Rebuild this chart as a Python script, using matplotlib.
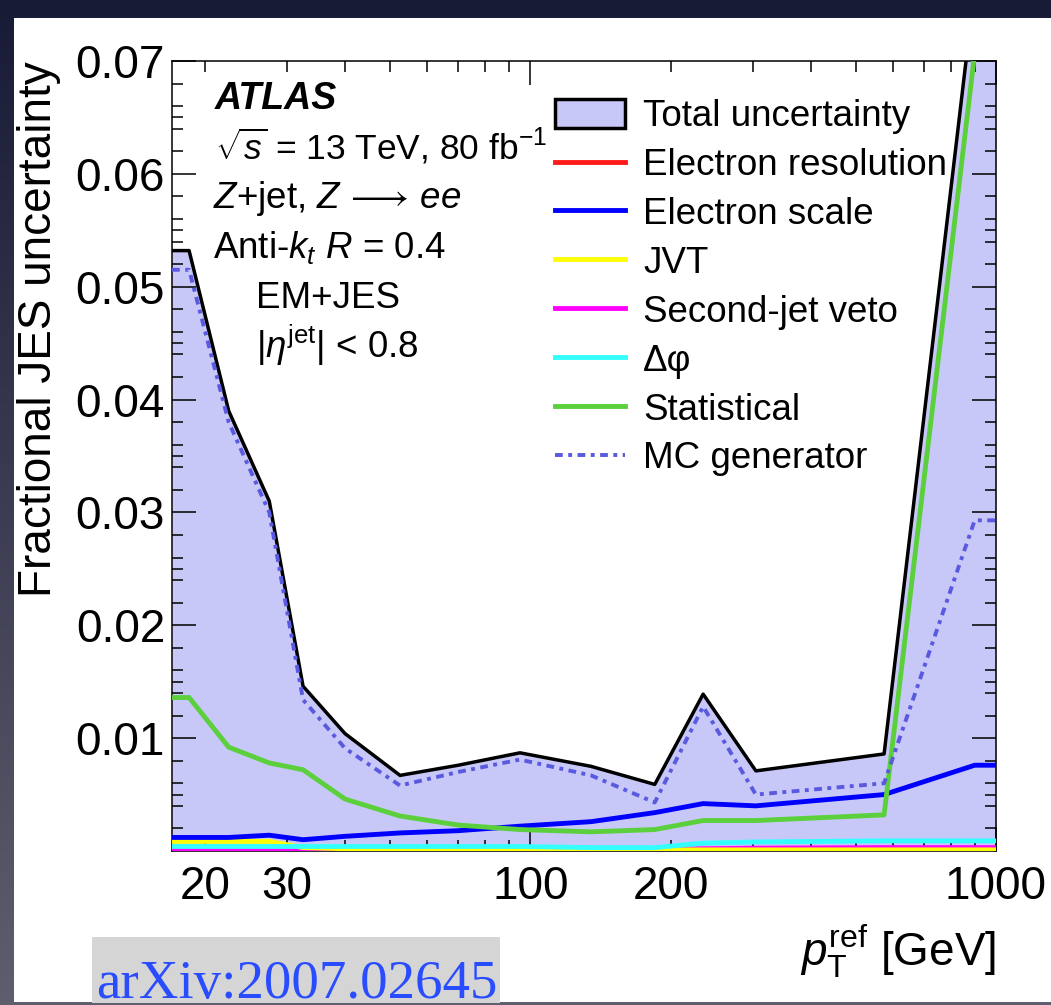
import matplotlib
matplotlib.use('Agg')
import matplotlib.pyplot as plt
import numpy as np
from matplotlib.patches import Rectangle, Patch
from matplotlib.lines import Line2D
from matplotlib.colors import LinearSegmentedColormap
from matplotlib.ticker import FixedLocator, FuncFormatter

plt.rcParams['font.family'] = ['Liberation Sans', 'DejaVu Sans']
plt.rcParams['mathtext.fontset'] = 'custom'
plt.rcParams['mathtext.rm'] = 'Liberation Sans'
plt.rcParams['mathtext.it'] = 'Liberation Sans:italic'
plt.rcParams['mathtext.bf'] = 'Liberation Sans:bold'

# pT range and bin centres [GeV]
pt_lo, pt_hi = 17, 1000
pt = [18.5, 22.5, 27.5, 32.5, 40, 52.5, 70, 95, 135, 185, 235, 305, 575, 900]

# fractional uncertainties
total    = [0.0532, 0.0390, 0.0310, 0.0146, 0.0104, 0.0067, 0.0076, 0.0087, 0.0075, 0.0059, 0.0139, 0.0071, 0.0086, 0.0765]
el_res   = [0.00001] * 14
el_scale = [0.0012, 0.0012, 0.0014, 0.0010, 0.0013, 0.0016, 0.0018, 0.0022, 0.0026, 0.0034, 0.0042, 0.0040, 0.0050, 0.0076]
jvt      = [0.00085, 0.00085, 0.00085, 0.0003, 0.0002, 0.0002, 0.0002, 0.0002, 0.0001, 0.0001, 0.0001, 0.0001, 0.0001, 0.0001]
sjv      = [0.00005, 0.00005, 0.00005, 0.00005, 0.00005, 0.00005, 0.00005, 0.00005, 0.00005, 0.0001, 0.0002, 0.00025, 0.0003, 0.0003]
dphi     = [0.0004, 0.0004, 0.0004, 0.0004, 0.0004, 0.0004, 0.0004, 0.0004, 0.0003, 0.0003, 0.0007, 0.0008, 0.0009, 0.0009]
stat     = [0.0136, 0.0092, 0.0078, 0.0072, 0.0046, 0.0031, 0.0023, 0.0019, 0.0017, 0.0019, 0.0027, 0.0027, 0.0032, 0.0707]
mcgen    = [0.0515, 0.0380, 0.0300, 0.0134, 0.0091, 0.0058, 0.0070, 0.0081, 0.0067, 0.0043, 0.0128, 0.0050, 0.0060, 0.0293]

labels = ['Total uncertainty', 'Electron resolution', 'Electron scale', 'JVT',
          'Second-jet veto', 'Δφ', 'Statistical', 'MC generator']

fill_col = '#c8c8f8'
mc_col = '#5a5ae0'
mc_ls = (0, (2.0, 1.4, 1.0, 1.4))


def ext(v):
    # values are held flat out to the edges of the first/last bin
    return [v[0]] + list(v) + [v[-1]]


xs = [pt_lo] + pt + [pt_hi]

W, H = 1051, 1005
fig = plt.figure(figsize=(W / 100, H / 100), dpi=100)

# slide-like dark frame with a white page
bg = fig.add_axes([0, 0, 1, 1], zorder=-10)
grad = np.linspace(0, 1, 256).reshape(-1, 1)
cmap = LinearSegmentedColormap.from_list('slide', ['#181b36', '#5e5e6e'])
bg.imshow(grad, aspect='auto', cmap=cmap, extent=[0, 1, 0, 1], origin='upper')
bg.add_patch(Rectangle((14 / W, 1 - 1002 / H), 1 - 14 / W, (1002 - 18) / H,
                       facecolor='white', edgecolor='none'))
bg.add_patch(Rectangle((92 / W, 1 - 1003 / H), (500 - 92) / W, (1003 - 937) / H,
                       facecolor='#d5d5d5', edgecolor='none'))
bg.set_xlim(0, 1)
bg.set_ylim(0, 1)
bg.axis('off')

ax = fig.add_axes([172 / W, (H - 851) / H, (996 - 172) / W, (851 - 61) / H])
ax.set_facecolor('none')

ax.fill_between(xs, 0, ext(total), color=fill_col, lw=0, zorder=1)
ax.plot(xs, ext(total), color='black', lw=2.5, zorder=3)
ax.plot(xs, ext(el_res), color='#ff1a1a', lw=3.5, zorder=4)
ax.plot(xs, ext(sjv), color='#ff00ff', lw=3.5, zorder=4)
ax.plot(xs, ext(jvt), color='#ffff00', lw=3.5, zorder=4)
ax.plot(xs, ext(dphi), color='#33ffff', lw=3.5, zorder=4)
ax.plot(xs, ext(el_scale), color='#0000ff', lw=3.5, zorder=5)
ax.plot(xs, ext(stat), color='#5cd03c', lw=3.5, zorder=5)
ax.plot(xs, ext(mcgen), color=mc_col, lw=2.8, ls=mc_ls, zorder=6)

ax.set_xscale('log')
ax.set_xlim(pt_lo, pt_hi)
ax.set_ylim(0, 0.07)

ax.xaxis.set_major_locator(FixedLocator([100, 1000]))
ax.xaxis.set_minor_locator(FixedLocator([20, 30, 40, 50, 60, 70, 80, 90,
                                         200, 300, 400, 500, 600, 700, 800, 900]))
ax.xaxis.set_major_formatter(FuncFormatter(lambda v, p: '%d' % round(v)))
ax.xaxis.set_minor_formatter(FuncFormatter(
    lambda v, p: '%d' % round(v) if round(v) in (20, 30, 200) else ''))

ax.yaxis.set_major_locator(FixedLocator([0.01, 0.02, 0.03, 0.04, 0.05, 0.06, 0.07]))
yminor = []
for k in range(7):
    for d in (0.002, 0.004, 0.005, 0.006, 0.008):
        yminor.append(k * 0.01 + d)
ax.yaxis.set_minor_locator(FixedLocator(yminor))
ax.yaxis.set_major_formatter(FuncFormatter(lambda v, p: '%.2f' % v))

ax.tick_params(which='both', direction='in', top=True, right=True, width=1.1, labelsize=33)
ax.tick_params(which='major', length=17)
ax.tick_params(which='minor', length=8)
ax.tick_params(axis='x', which='both', pad=10)
ax.tick_params(axis='y', which='both', pad=5)
for s in ax.spines.values():
    s.set_linewidth(1.1)

ax.set_ylabel('Fractional JES uncertainty', fontsize=33, loc='top')
ax.yaxis.set_label_coords(-0.135, 1.0)
ax.set_xlabel(r'$p_{\mathrm{T}}^{\mathrm{ref}}$ [GeV]', fontsize=33, loc='right')
ax.xaxis.set_label_coords(1.0, -0.09)

handles = [Patch(facecolor=fill_col, edgecolor='black', lw=2.5),
           Line2D([], [], color='#ff1a1a', lw=3.5),
           Line2D([], [], color='#0000ff', lw=3.5),
           Line2D([], [], color='#ffff00', lw=3.5),
           Line2D([], [], color='#ff00ff', lw=3.5),
           Line2D([], [], color='#33ffff', lw=3.5),
           Line2D([], [], color='#5cd03c', lw=3.5),
           Line2D([], [], color=mc_col, lw=2.8, ls=mc_ls)]
ax.legend(handles, labels, loc='upper left', bbox_to_anchor=(555 / W, 1 - 99 / H),
          bbox_transform=fig.transFigure, frameon=False, fontsize=26.5,
          handlelength=1.9, handleheight=0.85, handletextpad=0.5,
          labelspacing=0.365, borderpad=0, borderaxespad=0)


def ftext(x, y, s, **kw):
    fig.text(x / W, 1 - y / H, s, va='baseline', ha='left', **kw)


ftext(215, 109, 'ATLAS', fontsize=27, fontweight='bold', style='italic')
ftext(215, 159, r'$\sqrt{s}$ = 13 TeV, 80 fb$^{-1}$', fontsize=25.5)
ftext(213, 208, r'$Z$+jet, $Z\,\longrightarrow\,ee$', fontsize=26.5)
ftext(213, 258, r'Anti-$k_{t}$ $R$ = 0.4', fontsize=26.5)
ftext(256, 308, 'EM+JES', fontsize=26.5)
ftext(256, 358, r'|$\eta^{\mathrm{jet}}$| < 0.8', fontsize=26.5)

ftext(96, 998, 'arXiv:2007.02645', fontsize=39.5, color='#2a4cff',
      family='Liberation Serif')

fig.savefig('out.png', dpi=100)
